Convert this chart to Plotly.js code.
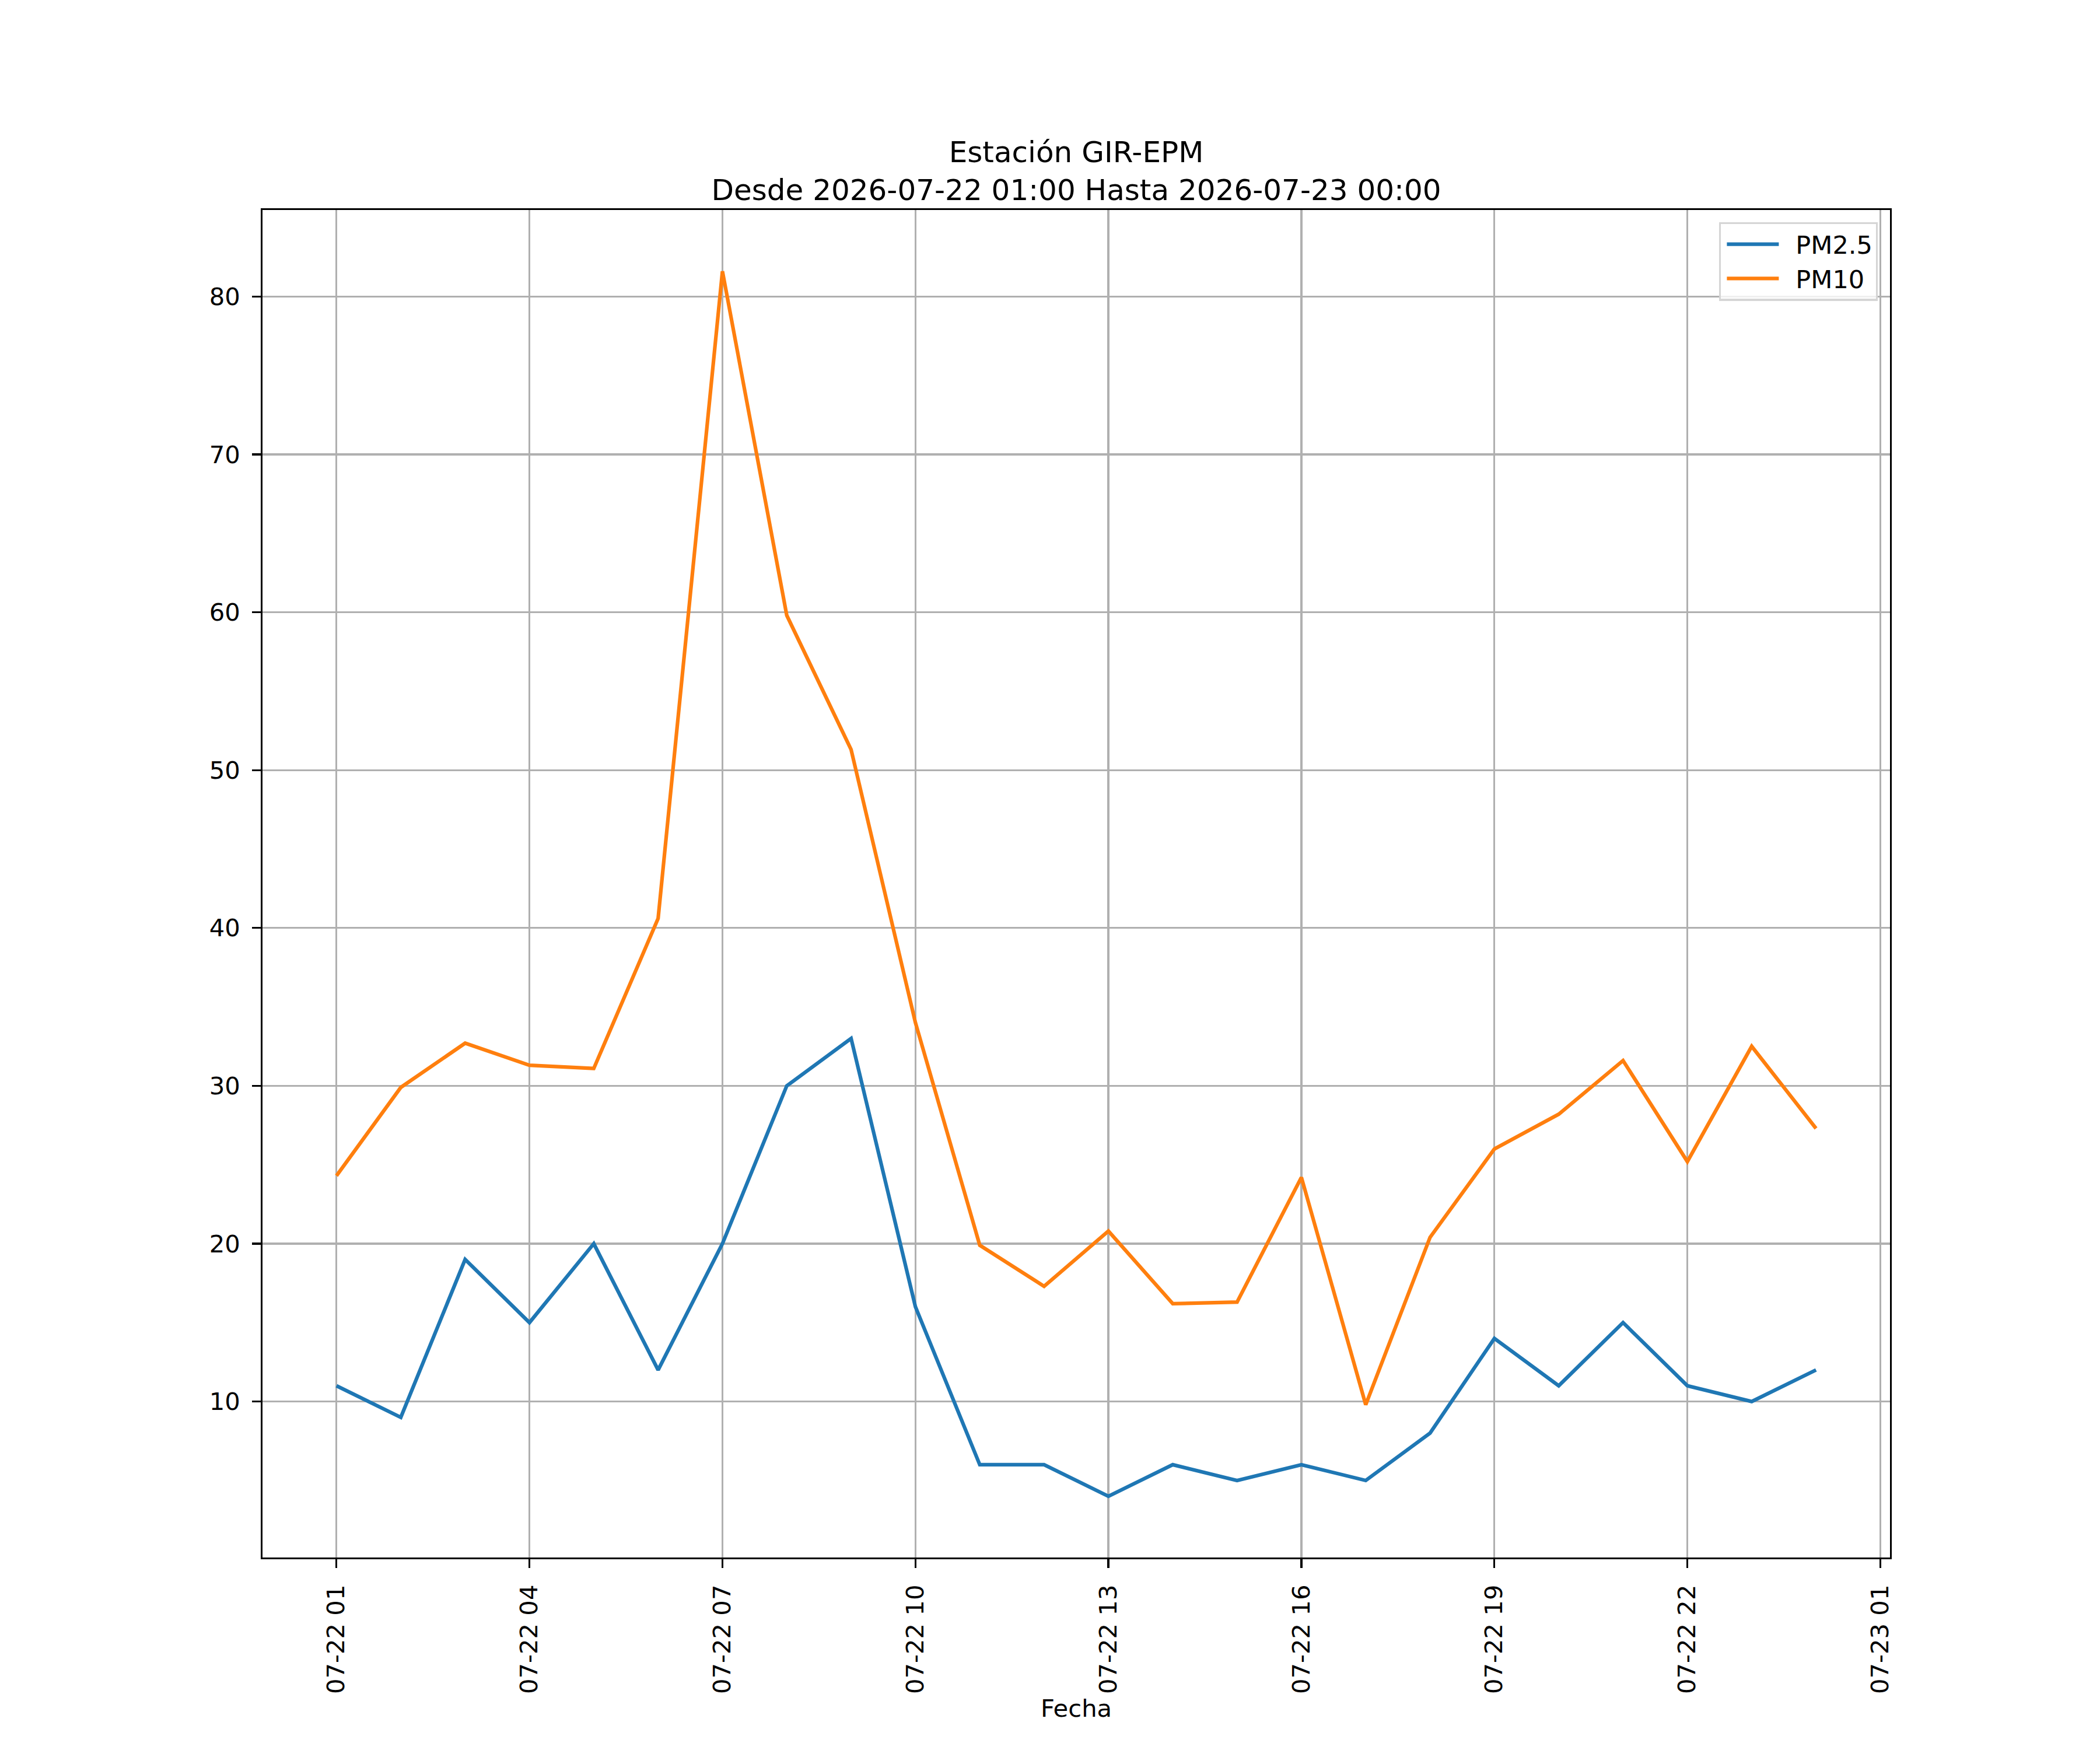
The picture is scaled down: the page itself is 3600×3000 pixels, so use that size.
<!DOCTYPE html>
<html>
<head>
<meta charset="utf-8">
<script src="https://cdn.plot.ly/plotly-3.0.1.min.js"></script>
<style>
  body { margin: 0; background: #fff; }
  #chart { width: 3600px; height: 3000px; }
</style>
</head>
<body>
<div id="chart"></div>
<script>
// horas de la estacion
var times = ["2026-07-22 01:00", "2026-07-22 02:00", "2026-07-22 03:00", "2026-07-22 04:00",
  "2026-07-22 05:00", "2026-07-22 06:00", "2026-07-22 07:00", "2026-07-22 08:00",
  "2026-07-22 09:00", "2026-07-22 10:00", "2026-07-22 11:00", "2026-07-22 12:00",
  "2026-07-22 13:00", "2026-07-22 14:00", "2026-07-22 15:00", "2026-07-22 16:00",
  "2026-07-22 17:00", "2026-07-22 18:00", "2026-07-22 19:00", "2026-07-22 20:00",
  "2026-07-22 21:00", "2026-07-22 22:00", "2026-07-22 23:00", "2026-07-23 00:00"];

var pm25 = [11, 9, 19, 15, 20, 12, 20, 30, 33, 16, 6, 6, 4, 6, 5, 6, 5, 8, 14, 11, 15, 11, 10, 12];
var pm10 = [24.3, 29.9, 32.7, 31.3, 31.1, 40.6, 81.6, 59.8, 51.3, 34.0, 19.9, 17.3,
  20.8, 16.2, 16.3, 24.2, 9.8, 20.4, 26.0, 28.2, 31.6, 25.2, 32.5, 27.3];

var seriesNames = ["PM2.5", "PM10"];
var titleText = "Estación GIR-EPM<br>Desde 2026-07-22 01:00 Hasta 2026-07-23 00:00";

// limites con margen del 5% como matplotlib
function toMs(s) { return Date.parse(s.replace(" ", "T") + ":00Z"); }
function toStr(ms) { return new Date(ms).toISOString().replace("T", " ").slice(0, 19); }
var t0 = toMs(times[0]), t1 = toMs(times[times.length - 1]);
var xpad = (t1 - t0) * 0.05;
var allY = pm25.concat(pm10);
var ymin = Math.min.apply(null, allY), ymax = Math.max.apply(null, allY);
var ypad = (ymax - ymin) * 0.05;

var trace1 = {
  x: times,
  y: pm25,
  type: 'scatter',
  mode: 'lines',
  name: seriesNames[0],
  line: {color: '#1f77b4', width: 6.25}
};
var trace2 = {
  x: times,
  y: pm10,
  type: 'scatter',
  mode: 'lines',
  name: seriesNames[1],
  line: {color: '#ff7f0e', width: 6.25}
};

var axisCommon = {
  showline: true,
  linecolor: '#000',
  linewidth: 3.3,
  mirror: true,
  showgrid: true,
  gridcolor: '#b0b0b0',
  gridwidth: 3.3,
  zeroline: false,
  ticks: 'outside',
  ticklen: 14.6,
  tickwidth: 3.3,
  tickcolor: '#000',
  ticklabelstandoff: 12,
  tickfont: {family: 'DejaVu Sans', size: 41.7, color: '#000'}
};

var layout = {
  width: 3600,
  height: 3000,
  paper_bgcolor: '#fff',
  plot_bgcolor: '#fff',
  margin: {l: 450, r: 360, t: 360, b: 330, pad: 0},
  font: {family: 'DejaVu Sans', color: '#000'},
  showlegend: true,
  title: {
    text: titleText,
    font: {family: 'DejaVu Sans', size: 50, color: '#000'},
    xref: 'paper', x: 0.5, xanchor: 'center',
    yref: 'paper', y: 1, yanchor: 'bottom',
    pad: {b: 82}
  },
  xaxis: Object.assign({}, axisCommon, {
    type: 'date',
    range: [toStr(t0 - xpad), toStr(t1 + xpad)],
    tick0: times[0],
    dtick: 3 * 3600 * 1000,
    tickformat: '%m-%d %H',
    tickangle: -90,
    automargin: false,
    title: {text: 'Fecha', font: {family: 'DejaVu Sans', size: 41.7, color: '#000'}, standoff: 6}
  }),
  yaxis: Object.assign({}, axisCommon, {
    range: [ymin - ypad, ymax + ypad],
    tick0: 0,
    dtick: 10,
    automargin: false
  }),
  legend: {
    x: 0.9925, xanchor: 'right',
    y: 0.991, yanchor: 'top',
    bgcolor: 'rgba(255,255,255,0.8)',
    bordercolor: '#d5d5d5',
    borderwidth: 3.3,
    itemwidth: 118,
    font: {family: 'DejaVu Sans', size: 43, color: '#000'},
    tracegroupgap: 0
  }
};

Plotly.newPlot('chart', [trace1, trace2], layout, {staticPlot: true}).then(function () {
  // linea de leyenda mas larga, como en matplotlib
  document.querySelectorAll('.legendlines path').forEach(function (p) {
    p.setAttribute('d', 'M10,0h89');
  });
});
</script>
</body>
</html>
